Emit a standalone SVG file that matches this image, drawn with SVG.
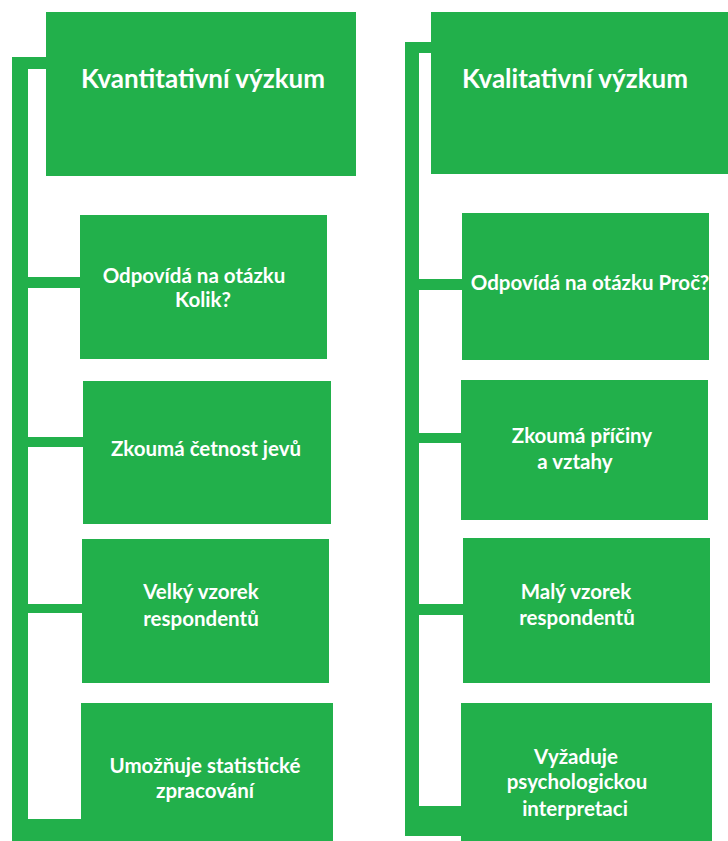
<svg xmlns="http://www.w3.org/2000/svg" width="728" height="841" viewBox="0 0 728 841">
<style>
.box{fill:#22b04b}
.con{fill:#22b04b}
text{font-family:Lato,"Open Sans","Liberation Sans",sans-serif;font-weight:bold;fill:#ffffff;text-anchor:middle}
.h{font-size:26px}
.t{font-size:20.5px}
</style>
<rect width="728" height="841" fill="#ffffff"/>
<g id="connectors">
<rect class="con" x="12" y="57" width="16" height="784"/>
<rect class="con" x="12" y="57" width="36" height="12"/>
<rect class="con" x="12" y="277" width="70" height="11"/>
<rect class="con" x="12" y="437" width="73" height="10"/>
<rect class="con" x="12" y="604" width="72" height="9"/>
<rect class="con" x="12" y="819" width="71" height="22"/>
<rect class="con" x="405" y="42" width="14" height="794"/>
<rect class="con" x="405" y="42" width="28" height="11"/>
<rect class="con" x="405" y="279" width="59" height="11"/>
<rect class="con" x="405" y="433" width="58" height="10"/>
<rect class="con" x="405" y="604" width="60" height="11"/>
<rect class="con" x="405" y="806" width="58" height="30"/>
</g>
<g id="kvantitativni">
<rect class="box" x="46" y="12" width="310" height="164"/>
<text class="h" x="203" y="88">Kvantitativní výzkum</text>
</g>
<g id="kolik">
<rect class="box" x="80" y="215" width="247" height="144"/>
<text class="t" x="194" y="283">Odpovídá na otázku</text>
<text class="t" x="203" y="307">Kolik?</text>
</g>
<g id="cetnost">
<rect class="box" x="83" y="381" width="248" height="143"/>
<text class="t" x="206" y="456">Zkoumá četnost jevů</text>
</g>
<g id="velky">
<rect class="box" x="82" y="539" width="247" height="144"/>
<text class="t" x="201" y="599">Velký vzorek</text>
<text class="t" x="201" y="626">respondentů</text>
</g>
<g id="statisticke">
<rect class="box" x="81" y="703" width="252" height="138"/>
<text class="t" x="205" y="773">Umožňuje statistické</text>
<text class="t" x="205" y="798">zpracování</text>
</g>
<g id="kvalitativni">
<rect class="box" x="431" y="12" width="297" height="162"/>
<text class="h" x="575" y="88">Kvalitativní výzkum</text>
</g>
<g id="proc">
<rect class="box" x="462" y="213" width="247" height="147"/>
<text class="t" x="590" y="290">Odpovídá na otázku Proč?</text>
</g>
<g id="priciny">
<rect class="box" x="461" y="380" width="247" height="140"/>
<text class="t" x="582" y="443">Zkoumá příčiny</text>
<text class="t" x="575" y="469">a vztahy</text>
</g>
<g id="maly">
<rect class="box" x="463" y="538" width="247" height="145"/>
<text class="t" x="576" y="599">Malý vzorek</text>
<text class="t" x="577" y="625">respondentů</text>
</g>
<g id="psychologicka">
<rect class="box" x="461" y="703" width="251" height="138"/>
<text class="t" x="576" y="764">Vyžaduje</text>
<text class="t" x="577" y="789">psychologickou</text>
<text class="t" x="575" y="816">interpretaci</text>
</g>
</svg>
